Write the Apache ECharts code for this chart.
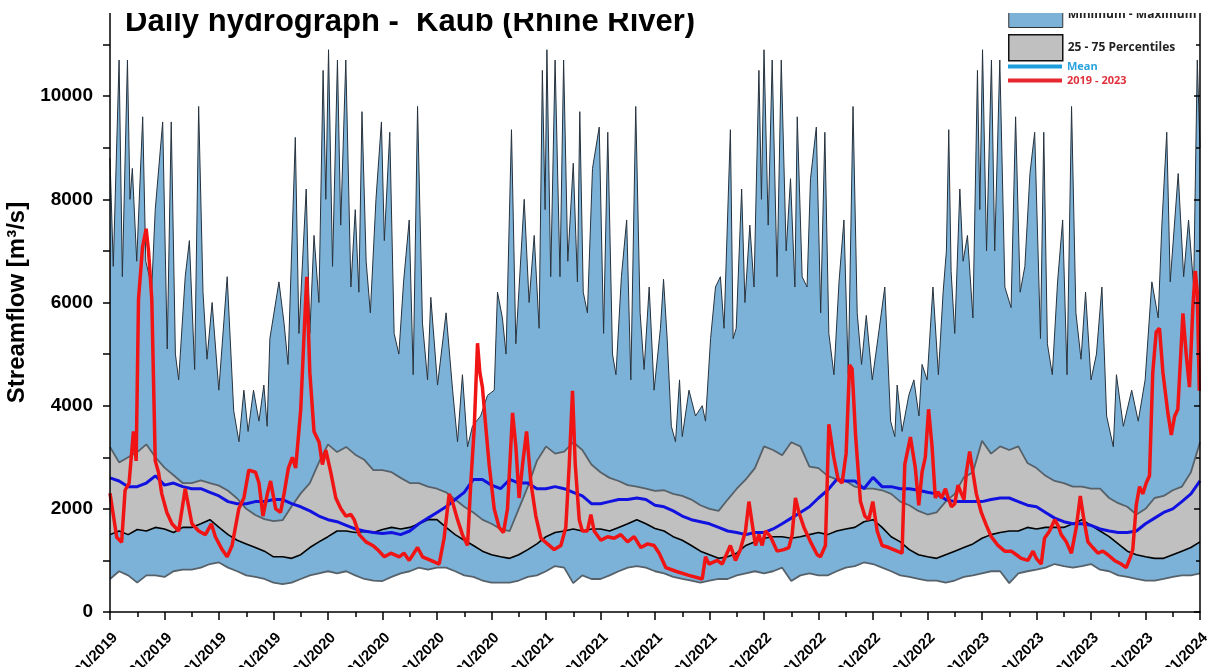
<!DOCTYPE html>
<html><head><meta charset="utf-8">
<script src="https://cdn.jsdelivr.net/npm/echarts@6/dist/echarts.min.js"></script>
<style>html,body{margin:0;padding:0;background:#fff}#c{width:1208px;height:667px}</style>
</head><body><div id="c"></div>
<script>
// x positions are months since 01/01/2019 (0 .. 60)
const halfMonths = Array.from({length:121},(_,i)=>i/2);

const p75Values = [3200,2900,3000,3100,3250,3000,2800,2650,2500,2500,2550,2500,2450,2350,2200,2000,1880,1800,1760,1780,2050,2300,2500,2900,3250,3100,3200,3050,2950,2750,2750,
 2710,2600,2500,2500,2430,2390,2320,2180,2040,1930,1790,1710,1610,1570,2000,2430,2930,3210,3070,3110,3290,3140,2860,2710,2600,2540,2460,2430,2390,2350,
 2360,2290,2250,2180,2070,2000,1960,2180,2390,2570,2790,3210,3140,3040,3290,3210,2820,2790,2640,2570,2540,2430,2390,2390,2360,2290,2140,2070,1960,1890,
 1930,2140,2290,2610,2710,3320,3070,3210,3140,3210,2890,2790,2640,2540,2500,2430,2430,2390,2390,2210,2110,2040,1890,2000,2210,2250,2360,2430,2710,3290];

const p25Values = [1500,1570,1500,1600,1570,1640,1610,1540,1640,1640,1710,1790,1640,1500,1390,1320,1250,1180,1070,1070,1040,1110,1250,1360,1460,1570,1570,1540,1560,1540,1600,
 1640,1610,1640,1710,1790,1790,1640,1500,1390,1290,1180,1110,1070,1040,1110,1210,1320,1460,1540,1570,1610,1570,1610,1610,1570,1640,1710,1790,1710,1620,
 1570,1460,1390,1290,1180,1110,1040,1070,1140,1290,1360,1430,1460,1460,1430,1460,1500,1540,1500,1570,1610,1640,1750,1790,1640,1460,1360,1210,1110,1070,
 1040,1110,1180,1250,1320,1430,1500,1540,1570,1570,1640,1610,1640,1640,1640,1710,1790,1680,1570,1460,1320,1180,1110,1070,1040,1040,1110,1180,1250,1360];

const minValues = [640,790,710,570,710,710,680,790,820,820,860,930,960,860,790,710,680,640,570,540,570,640,710,750,790,750,790,710,640,610,600,
 680,750,790,860,820,860,860,790,710,680,610,570,570,570,610,680,710,790,890,860,560,710,640,640,710,790,860,890,860,790,
 750,680,640,610,570,610,640,640,710,750,790,750,790,860,600,710,750,710,710,790,860,890,960,930,860,790,710,680,640,610,
 610,570,610,680,710,750,790,790,560,750,790,820,860,930,890,860,890,930,820,790,710,680,640,610,610,640,680,710,710,750];

const meanValues = [2600,2540,2430,2430,2500,2640,2460,2500,2430,2390,2390,2320,2250,2140,2100,2100,2140,2140,2180,2180,2100,2040,1960,1860,1790,1750,1680,1610,1570,1540,1520,
 1540,1500,1570,1710,1820,1930,2040,2180,2320,2570,2570,2460,2390,2570,2500,2500,2390,2390,2430,2390,2320,2250,2100,2100,2140,2180,2180,2210,2180,2070,
 2040,1960,1860,1790,1750,1710,1640,1570,1540,1500,1540,1540,1610,1710,1820,1930,2040,2210,2360,2570,2540,2540,2390,2610,2430,2430,2390,2390,2360,2320,
 2290,2180,2140,2140,2140,2140,2180,2210,2210,2140,2070,2040,1930,1820,1750,1710,1710,1680,1610,1570,1540,1540,1570,1710,1820,1930,2000,2140,2290,2540];

const maxPoints = [[0,8800],[0.18,6700],[0.5,10700],[0.68,6500],[0.96,10700],[1.1,8000],[1.23,8600],[1.47,6800],[1.8,9600],[1.97,6800],[2.3,6300],[2.49,7800],[2.9,9500],[3.15,5100],[3.37,9500],[3.6,5000],[3.78,4500],[4.14,6500],[4.37,7200],[4.66,4700],[4.88,9800],[5.12,6200],[5.34,4900],[5.62,6000],[5.99,4300],[6.45,6500],[6.81,3900],[7.1,3300],[7.37,4300],[7.6,3500],[7.9,4300],[8.2,3700],[8.47,4400],[8.65,3600],[8.8,5300],[9.3,6400],[9.58,5600],[9.8,4800],[10.2,9200],[10.4,5400],[10.8,8200],[11.0,5400],[11.23,7300],[11.5,6000],[11.73,10500],[11.88,8000],[12.03,10900],[12.25,6700],[12.52,10700],[12.7,7500],[12.98,10700],[13.26,6300],[13.5,7800],[13.7,6200],[13.87,9700],[14.1,6800],[14.33,5800],[14.64,8000],[14.94,9500],
 [15.1,7200],[15.4,9300],[15.64,5400],[15.9,5000],[16.16,6400],[16.47,7600],[16.69,4600],[16.93,9800],[17.2,5600],[17.48,4500],[17.66,6100],[18.03,4400],[18.5,5800],[18.86,4300],[19.13,3300],[19.4,4600],[19.68,3200],[19.95,3600],[20.4,3800],[20.78,4200],[21.15,4300],[21.33,6200],[21.6,5700],[21.8,5000],[22.1,9350],[22.34,5200],[22.8,8000],[23.07,6000],[23.35,7300],[23.62,5500],[23.8,10500],[23.95,7800],[24.05,10900],[24.26,6500],[24.5,10700],[24.77,6500],[24.97,10700],[25.2,6800],[25.5,8700],[25.73,6400],[25.86,9700],[26.05,6200],[26.28,5800],[26.56,8600],[26.93,9400],[27.17,5400],[27.4,9300],[27.66,5000],[27.85,4600],[28.15,6500],[28.44,7600],[28.67,4500],[28.94,9800],[29.18,5800],[29.4,4700],[29.68,6300],[29.95,4300],
 [30.3,5500],[30.47,6450],[30.67,5300],[30.9,3600],[31.13,3300],[31.35,4500],[31.5,3400],[31.87,4300],[32.23,3800],[32.6,4000],[32.78,3700],[33.06,5300],[33.33,6300],[33.6,6500],[33.8,5500],[34.15,9350],[34.3,5300],[34.47,5500],[34.77,8200],[34.95,6000],[35.22,7500],[35.45,6300],[35.72,10500],[35.86,8000],[36.0,10900],[36.23,7500],[36.45,10700],[36.72,6500],[36.95,10700],[37.22,7000],[37.46,8400],[37.7,6300],[37.83,9600],[38.1,6500],[38.37,6300],[38.56,8400],[38.88,9400],[39.12,5800],[39.35,9300],[39.57,5400],[39.85,4600],[40.13,6400],[40.4,7600],[40.64,4600],[40.9,9800],[41.13,5800],[41.37,4800],[41.63,5750],[41.96,4500],[42.27,5300],[42.65,6300],[42.97,3700],[43.2,3400],[43.33,4400],[43.6,3500],[43.97,4200],[44.25,4500],[44.53,3800],[44.7,4800],[44.98,4500],
 [45.3,6300],[45.6,4600],[45.86,6200],[46.04,7000],[46.17,9350],[46.3,6600],[46.5,5400],[46.78,8200],[46.96,6800],[47.2,7300],[47.5,5700],[47.75,10500],[47.88,7800],[48.03,10900],[48.25,7000],[48.52,10700],[48.7,7000],[48.98,10700],[49.26,6300],[49.6,5900],[49.85,9600],[50.1,6200],[50.36,6700],[50.64,8500],[50.9,9300],[51.22,5300],[51.4,9300],[51.6,5200],[51.87,4600],[52.16,6400],[52.44,7600],[52.68,4600],[52.93,9800],[53.17,5800],[53.45,4900],[53.7,6200],[54.0,4500],[54.3,5000],[54.6,6300],[54.86,3800],[55.23,3200],[55.4,4600],[55.78,3600],[56.24,4300],[56.6,3700],[56.98,4500],[57.35,6400],[57.7,5700],[57.9,7500],[58.17,9300],[58.36,6400],[58.8,8500],[59.1,6500],[59.37,7600],[59.65,6300],[59.85,10700],[60,9000]];

const obsPoints = [[0,2300],[0.37,1450],[0.64,1350],[0.83,2360],[1.05,2500],[1.29,3500],[1.44,2930],[1.57,6070],[1.79,7070],[1.99,7430],[2.12,7000],[2.3,6070],[2.49,2930],[2.67,2710],[2.85,2290],[3.13,1930],[3.41,1710],[3.78,1570],[4.14,2390],[4.51,1710],[4.88,1570],[5.25,1500],[5.58,1710],[5.8,1460],[6.17,1210],[6.45,1070],[6.72,1290],[7.09,2000],[7.37,2210],[7.64,2750],[8.01,2710],[8.2,2500],[8.42,1860],[8.66,2290],[8.84,2540],[9.12,2000],[9.39,1930],[9.58,2290],[9.82,2790],[10.04,3000],[10.22,2790],[10.5,3930],[10.68,5360],[10.83,6500],[11.0,4640],[11.23,3500],[11.51,3290],[11.69,2860],[11.88,3140],[12.15,2710],[12.43,2210],[12.71,2000],[12.98,1860],[13.26,1890],[13.44,1790],[13.72,1500],[14.09,1360],[14.46,1290],[14.73,1210],[15.1,1070],
 [15.46,1140],[15.92,1070],[16.19,1140],[16.47,1000],[16.93,1250],[17.2,1070],[17.66,1000],[18.12,930],[18.39,1430],[18.67,2290],[18.85,2140],[19.13,1790],[19.4,1500],[19.68,1290],[19.86,2500],[20.05,3570],[20.23,5210],[20.36,4640],[20.5,4360],[20.69,3570],[20.87,2860],[21.15,2000],[21.42,1640],[21.66,1540],[21.88,2000],[22.16,3860],[22.34,3210],[22.52,2210],[22.71,2860],[22.93,3500],[23.17,2500],[23.44,1860],[23.72,1430],[24.08,1320],[24.45,1210],[24.82,1290],[25.09,1640],[25.28,2860],[25.46,4290],[25.61,2860],[25.83,1790],[26.0,1570],[26.28,1570],[26.47,1890],[26.65,1570],[27.02,1390],[27.39,1460],[27.75,1430],[28.12,1500],[28.49,1360],[28.85,1460],[29.22,1250],[29.59,1320],[29.95,1290],[30.23,1140],
 [30.6,860],[31.14,790],[31.87,710],[32.6,640],[32.78,1070],[32.97,930],[33.42,1000],[33.7,930],[34.15,1290],[34.43,1000],[34.7,1210],[34.98,1570],[35.17,2140],[35.35,1710],[35.53,1290],[35.72,1500],[35.9,1290],[36.08,1570],[36.36,1460],[36.72,1180],[37.09,1210],[37.37,1250],[37.55,1500],[37.73,2210],[37.92,1930],[38.2,1640],[38.56,1360],[38.93,1110],[39.11,1070],[39.38,1290],[39.57,3640],[39.84,3000],[40.08,2570],[40.3,2500],[40.52,3070],[40.71,4790],[40.85,4710],[41.04,3430],[41.31,2140],[41.55,1860],[41.77,1790],[41.99,2140],[42.23,1570],[42.5,1290],[42.87,1250],[43.33,1180],[43.6,1140],[43.75,2860],[44.06,3390],[44.33,2790],[44.52,2070],[44.7,2710],[44.88,3000],[45.06,3930],[45.25,3210],[45.43,2210],
 [45.58,2330],[45.77,2210],[45.99,2390],[46.14,2210],[46.32,2040],[46.5,2100],[46.68,2460],[46.87,2290],[47.01,2180],[47.14,2710],[47.32,3110],[47.5,2710],[47.69,2290],[47.96,1930],[48.24,1680],[48.51,1460],[48.88,1290],[49.25,1180],[49.61,1180],[49.89,1110],[50.16,1040],[50.53,1000],[50.81,1180],[50.99,1040],[51.26,930],[51.44,1430],[51.72,1570],[52.0,1790],[52.18,1680],[52.36,1500],[52.64,1360],[52.92,1140],[53.19,1640],[53.41,2250],[53.61,1790],[53.83,1360],[54.1,1250],[54.38,1140],[54.65,1180],[54.93,1110],[55.29,1000],[55.66,930],[55.94,860],[56.17,1070],[56.3,1210],[56.49,2070],[56.67,2430],[56.85,2290],[57.04,2500],[57.22,2640],[57.4,4640],[57.59,5430],[57.77,5500],[57.96,4640],[58.23,3860],[58.42,3430],[58.6,3790],[58.78,3930],[59.06,5790],[59.24,5000],[59.42,4360],[59.61,5930],[59.74,6610],[59.85,6210],[59.96,4290]];

const yTicks = [0,2000,4000,6000,8000,10000];

const pair = (xs, ys) => xs.map((x,i)=>[x, ys[i]]);
const BLUE = '#7db2d8', GRAY = '#c0c0c0';
const F = 'Liberation Sans, Arial, sans-serif';

const chart = echarts.init(document.getElementById('c'), null, {renderer:'canvas'});
chart.setOption({
  animation:false,
  backgroundColor:'#fff',
  title:{text:'Daily hydrograph -  Kaub (Rhine River)', left:120, top:2,
    textStyle:{fontFamily:F, fontSize:31, fontWeight:'bold', color:'#000'}},
  legend:[
    {orient:'vertical', left:1003, top:-4, itemWidth:54, itemHeight:26, itemGap:6, icon:'rect',
     textStyle:{fontFamily:'Open Sans', fontSize:12, fontWeight:'bold', color:'#222'},
     data:[
       {name:'Minimum - Maximum', itemStyle:{color:BLUE, borderColor:'#333', borderWidth:1}},
       {name:'25 - 75 Percentiles', itemStyle:{color:GRAY, borderColor:'#111', borderWidth:1.5}}
     ]},
    {orient:'vertical', left:1003, top:56, itemWidth:54, itemHeight:4, itemGap:3, icon:'rect',
     textStyle:{fontFamily:'Open Sans', fontSize:11, fontWeight:'bold'},
     data:[
       {name:'Mean', itemStyle:{color:'#1d9ddc', borderWidth:0}, textStyle:{color:'#2ba3dc'}},
       {name:'2019 - 2023', itemStyle:{color:'#e8262e', borderWidth:0}, textStyle:{color:'#e0323c'}}
     ]}
  ],
  grid:{left:110, right:8, top:-7, bottom:55, outerBoundsMode:'none', containLabel:false},
  graphic:[{type:'rect', z:100, silent:true, shape:{x:0, y:0, width:1208, height:13}, style:{fill:'#fff'}}],
  xAxis:{type:'value', min:0, max:60, interval:3, z:5,
    axisLine:{lineStyle:{color:'#000', width:1.5}},
    axisTick:{length:8, lineStyle:{color:'#000', width:1.5}},
    minorTick:{show:true, splitNumber:2, length:5, lineStyle:{color:'#000', width:1.5}},
    splitLine:{show:false},
    axisLabel:{rotate:45, margin:18, verticalAlign:'top', fontFamily:F, fontSize:15, fontWeight:'bold', color:'#000',
      formatter:v=>{const y=2019+Math.floor(v/12); const m=(v%12)+1; return (m<10?'0':'')+m+'/01/'+y;}}},
  yAxis:[
    {type:'value', min:0, max:12000, interval:2000, z:5,
     axisLine:{show:true, lineStyle:{color:'#000', width:1.5}},
     axisTick:{show:true, length:7, lineStyle:{color:'#000', width:1.5}},
     minorTick:{show:true, splitNumber:2, length:7, lineStyle:{color:'#000', width:1.5}},
     splitLine:{show:false},
     axisLabel:{margin:17, fontFamily:F, fontSize:19, fontWeight:'bold', color:'#000',
       formatter:v=> yTicks.includes(v) ? String(v) : ''},
     name:'Streamflow [m³/s]', nameLocation:'middle', nameGap:76,
     nameTextStyle:{fontFamily:F, fontSize:24, fontWeight:'bold', color:'#000'}},
    {type:'value', position:'right', min:0, max:12000, interval:2000, z:5,
     axisLine:{show:true, lineStyle:{color:'#000', width:1.5}},
     axisTick:{show:true, inside:true, length:6, lineStyle:{color:'#000', width:1.5}},
     minorTick:{show:true, splitNumber:2, length:4, lineStyle:{color:'#000', width:1.5}},
     axisLabel:{show:false}, splitLine:{show:false}}
  ],
  series:[
    {name:'Minimum - Maximum', type:'line', data:maxPoints, symbol:'none',
     lineStyle:{color:'#26323d', width:1}, itemStyle:{color:BLUE}, areaStyle:{color:BLUE, opacity:1}},
    {name:'25 - 75 Percentiles', type:'line', data:pair(halfMonths,p75Values), symbol:'none',
     lineStyle:{color:'#56616a', width:1.8}, itemStyle:{color:GRAY}, areaStyle:{color:GRAY, opacity:1}},
    {name:'p25', type:'line', data:pair(halfMonths,p25Values), symbol:'none',
     lineStyle:{color:'#000', width:1.6}, areaStyle:{color:BLUE, opacity:1}},
    {name:'min', type:'line', data:pair(halfMonths,minValues), symbol:'none',
     lineStyle:{color:'#56616a', width:1.8}, areaStyle:{color:'#fff', opacity:1}},
    {name:'Mean', type:'line', data:pair(halfMonths,meanValues), symbol:'none',
     lineStyle:{color:'#1212e0', width:3}, itemStyle:{color:'#1d9ddc'}},
    {name:'2019 - 2023', type:'line', data:obsPoints, symbol:'none',
     lineStyle:{color:'#f01414', width:3.5}, itemStyle:{color:'#e8262e'}}
  ]
});
</script></body></html>
